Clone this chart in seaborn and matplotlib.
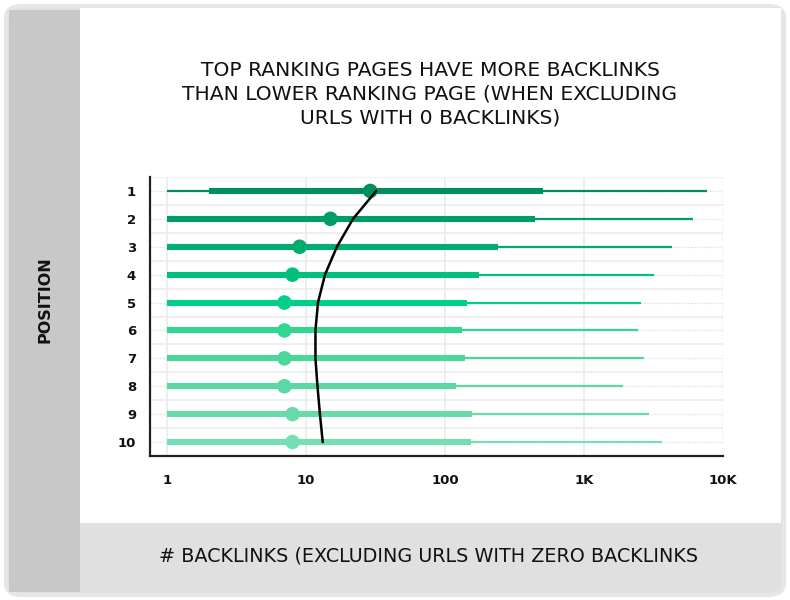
import matplotlib
matplotlib.use("Agg")
import matplotlib.pyplot as plt
from matplotlib.patches import FancyBboxPatch, Rectangle
import seaborn as sns
import pandas as pd
import numpy as np

# ---- data ----
positions = [1, 2, 3, 4, 5, 6, 7, 8, 9, 10]
whisker_low = [1, 1, 1, 1, 1, 1, 1, 1, 1, 1]
box_low = [2, 1, 1, 1, 1, 1, 1, 1, 1, 1]
median = [29, 15, 9, 8, 7, 7, 7, 7, 8, 8]
box_high = [507, 444, 239, 177, 145, 132, 140, 121, 156, 153]
whisker_high = [7670, 6050, 4300, 3210, 2550, 2460, 2690, 1920, 2920, 3640]
trend = [32, 21.8, 16.7, 13.7, 12.2, 11.7, 11.7, 12.1, 12.6, 13.2]
colors = ["#008f5c", "#009e66", "#00ad6f", "#00c07c", "#00cf88",
          "#33d592", "#4bd79a", "#5bd9a2", "#69dbaa", "#76deb3"]
x_ticks = [1, 10, 100, 1000, 10000]
x_labels = ["1", "10", "100", "1K", "10K"]

title = ("TOP RANKING PAGES HAVE MORE BACKLINKS\n"
         "THAN LOWER RANKING PAGE (WHEN EXCLUDING\n"
         "URLS WITH 0 BACKLINKS)")
xlabel = "# BACKLINKS (EXCLUDING URLS WITH ZERO BACKLINKS"
ylabel = "POSITION"

df = pd.DataFrame({"position": positions, "median": median,
                   "trend": trend, "pos_label": [str(p) for p in positions]})

sns.set_theme(style="white")
plt.rcParams["font.family"] = ["DejaVu Sans"]

fig = plt.figure(figsize=(7.9, 6.0), dpi=100)
W, H = 790, 600

def fx(px):
    return px / W

def fy(py):
    return 1 - py / H

# outer frame
fig.patches.append(FancyBboxPatch((fx(6), fy(595)), fx(778), (589) / H,
                                  boxstyle="round,pad=0,rounding_size=0.02",
                                  transform=fig.transFigure, facecolor="#e0e0e0",
                                  edgecolor="#e6e6e6", linewidth=3, zorder=-10))
# white panel
fig.patches.append(Rectangle((fx(80), fy(523)), fx(701), (523 - 8) / H,
                             transform=fig.transFigure, facecolor="white",
                             edgecolor="none", zorder=-9))
# left grey strip
fig.patches.append(Rectangle((fx(9), fy(592)), fx(71), (592 - 10) / H,
                             transform=fig.transFigure, facecolor="#c8c8c8",
                             edgecolor="none", zorder=-8))

ax = fig.add_axes([fx(150), fy(456), fx(723 - 150), (456 - 177) / H])
ax.set_xscale("log")
ax.set_xlim(0.755, 10000)
ax.set_ylim(10.5, 0.5)

# grid
for d in x_ticks:
    ax.axvline(d, color="#ebebeb", lw=1.2, zorder=0,
               ls=(0, (1, 1)) if d == 10000 else "-")
for p in positions:
    ax.axhline(p, color="#e4e4e4", lw=0.9, ls=(0, (1.5, 1)), zorder=0)
    ax.axhline(p + 0.5, color="#ececec", lw=1.2, zorder=0)
ax.axhline(0.5, color="#ececec", lw=1.2, zorder=0)

# whiskers and boxes
ax.hlines(positions, whisker_low, whisker_high, colors=colors, lw=1.6, zorder=2)
ax.hlines(positions, box_low, box_high, colors=colors, lw=4.4, zorder=3)

sns.scatterplot(data=df, x="median", y="position", hue="pos_label",
                palette=colors, s=110, edgecolor="none", legend=False,
                ax=ax, zorder=4)
sns.lineplot(data=df, x="trend", y="position", sort=False, orient="y",
             color="black", lw=1.8, ax=ax, zorder=5)

ax.set_xticks(x_ticks)
ax.set_xticklabels(x_labels)
ax.minorticks_off()
ax.set_yticks(positions)
ax.set_yticklabels([str(p) for p in positions])
ax.tick_params(axis="both", length=0, labelsize=9.5)
ax.tick_params(axis="y", pad=10)
ax.tick_params(axis="x", pad=13)
for lab in ax.get_xticklabels() + ax.get_yticklabels():
    lab.set_fontweight("bold")
    lab.set_color("#111111")
ax.set_xlabel("")
ax.set_ylabel("")
for s in ["top", "right"]:
    ax.spines[s].set_visible(False)
for s in ["left", "bottom"]:
    ax.spines[s].set_color("#222222")
    ax.spines[s].set_linewidth(1.6)
ax.set_facecolor("none")

fig.text(fx(430), fy(94), title, ha="center", va="center", fontsize=14.6,
         linespacing=1.3, color="#111111")
fig.text(fx(429), fy(556), xlabel, ha="center", va="center", fontsize=13.8,
         color="#111111")
fig.text(fx(45), fy(300), ylabel, ha="center", va="center", fontsize=11.5,
         rotation=90, color="#111111", fontweight="bold")

fig.savefig("out.png", dpi=100)
